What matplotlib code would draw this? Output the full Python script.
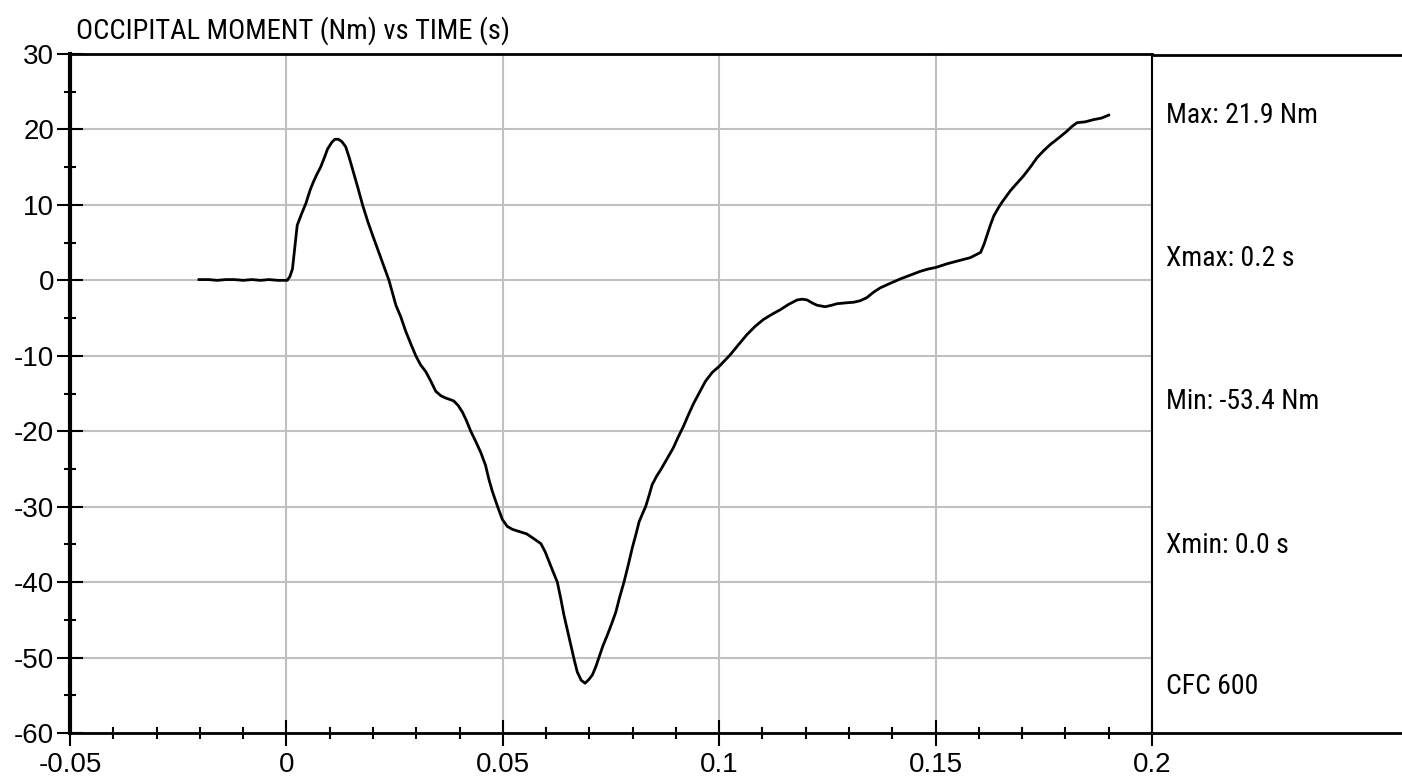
import matplotlib
matplotlib.use("Agg")
import matplotlib.pyplot as plt
from matplotlib import font_manager
from matplotlib.lines import Line2D
from matplotlib.ticker import MultipleLocator

# ---------------- data ----------------
time_s = [
    -0.0202, -0.018, -0.016, -0.014, -0.012, -0.010, -0.008, -0.006, -0.004, -0.002, 0.0002,
    0.0008, 0.0014, 0.0020, 0.0025, 0.0035, 0.0045, 0.0055, 0.0062, 0.0070, 0.0079,
    0.0088, 0.0095, 0.0105, 0.0112, 0.0120, 0.0128, 0.0137, 0.0145, 0.0153, 0.0165,
    0.0176, 0.0188, 0.0199, 0.0218, 0.0237, 0.0253, 0.0264, 0.0276, 0.0288, 0.0299,
    0.0310, 0.0322, 0.0334, 0.0345, 0.0357, 0.0368, 0.0378, 0.0387, 0.0397, 0.0407,
    0.0416, 0.0426, 0.0437, 0.0449, 0.0460, 0.0468, 0.0476, 0.0488, 0.0499, 0.0510,
    0.0522, 0.0538, 0.0555, 0.0568, 0.0588, 0.0598, 0.0607, 0.0616, 0.0626, 0.0634,
    0.0641, 0.0649, 0.0657, 0.0665, 0.0672, 0.0681, 0.0690, 0.0699, 0.0707, 0.0715,
    0.0722, 0.0731, 0.0741, 0.0751, 0.0761, 0.0770, 0.0780, 0.0790, 0.0799, 0.0807,
    0.0815, 0.0823, 0.0830, 0.0838, 0.0845, 0.0855, 0.0866, 0.0880, 0.0894, 0.0905,
    0.0917, 0.0929, 0.0941, 0.0955, 0.0968, 0.0984, 0.1000, 0.1025, 0.1045, 0.1064,
    0.1083, 0.1102, 0.1122, 0.1141, 0.1160, 0.1180, 0.1192, 0.1203, 0.1215, 0.1226,
    0.1245, 0.1260, 0.1272, 0.1290, 0.1311, 0.1326, 0.1341, 0.1356, 0.1372, 0.1395,
    0.1419, 0.1442, 0.1465, 0.1483, 0.1500, 0.1527, 0.1553, 0.1580, 0.1604, 0.1612,
    0.1619, 0.1627, 0.1635, 0.1645, 0.1654, 0.1673, 0.1690, 0.1704, 0.1720, 0.1735,
    0.1750, 0.1765, 0.1785, 0.1804, 0.1815, 0.1827, 0.1845, 0.1865, 0.1883, 0.1900,
]
moment_nm = [
    0.1, 0.1, 0.0, 0.1, 0.1, 0.0, 0.1, 0.0, 0.1, 0.0, 0.0,
    0.5, 1.5, 4.6, 7.3, 8.8, 10.2, 12.0, 13.0, 14.0, 15.0,
    16.3, 17.4, 18.3, 18.7, 18.7, 18.4, 17.7, 16.3, 14.7, 12.3,
    10.0, 7.8, 6.0, 3.0, 0.0, -3.3, -4.8, -6.8, -8.5, -10.0,
    -11.2, -12.1, -13.4, -14.7, -15.3, -15.6, -15.8, -16.0, -16.6, -17.5,
    -18.6, -20.0, -21.3, -22.8, -24.5, -26.4, -28.0, -30.0, -31.7, -32.6,
    -33.0, -33.3, -33.6, -34.1, -34.9, -36.0, -37.3, -38.6, -40.0, -42.2,
    -44.3, -46.3, -48.3, -50.3, -51.9, -53.0, -53.4, -52.9, -52.3, -51.2,
    -50.0, -48.5, -47.1, -45.6, -44.0, -42.0, -40.0, -37.7, -35.5, -33.8,
    -32.0, -30.9, -30.0, -28.5, -27.1, -26.0, -25.0, -23.6, -22.2, -20.8,
    -19.4, -17.8, -16.3, -14.8, -13.4, -12.2, -11.4, -9.9, -8.5, -7.2,
    -6.1, -5.2, -4.5, -3.9, -3.2, -2.6, -2.5, -2.6, -3.0, -3.3,
    -3.5, -3.3, -3.1, -3.0, -2.9, -2.7, -2.3, -1.6, -1.0, -0.4,
    0.2, 0.7, 1.2, 1.5, 1.7, 2.2, 2.6, 3.0, 3.7, 4.8,
    6.0, 7.4, 8.6, 9.6, 10.4, 11.9, 13.0, 13.9, 15.1, 16.3,
    17.2, 18.0, 18.9, 19.8, 20.4, 20.9, 21.0, 21.3, 21.5, 21.9,
]
x_ticks = [-0.05, 0.0, 0.05, 0.1, 0.15, 0.2]
x_tick_labels = ["-0.05", "0", "0.05", "0.1", "0.15", "0.2"]
y_ticks = [-60, -50, -40, -30, -20, -10, 0, 10, 20, 30]
y_tick_labels = [str(v) for v in y_ticks]
title_text = "OCCIPITAL MOMENT (Nm) vs TIME (s)"
info_texts = ["Max: 21.9 Nm", "Xmax: 0.2 s", "Min: -53.4 Nm", "Xmin: 0.0 s", "CFC 600"]


def pick_family(cands):
    for c in cands:
        try:
            font_manager.findfont(font_manager.FontProperties(family=c),
                                  fallback_to_default=False)
            return c
        except Exception:
            continue
    return "DejaVu Sans"


narrow = pick_family(["Liberation Sans Narrow", "Arial Narrow", "DejaVu Sans Condensed",
                      "Roboto Condensed", "Liberation Sans"])
regular = pick_family(["Liberation Sans", "Arial", "DejaVu Sans"])

W, H = 1402, 783
fig = plt.figure(figsize=(W / 100, H / 100), dpi=100)
fig.patch.set_facecolor("white")

left_px, right_px, top_px, bot_px = 70, 1152, 54, 733
ax = fig.add_axes([left_px / W, 1 - bot_px / H, (right_px - left_px) / W, (bot_px - top_px) / H])
ax.set_xlim(-0.05, 0.2)
ax.set_ylim(-60, 30)

ax.plot(time_s, moment_nm, color="black", lw=2.0, zorder=3)

ax.set_xticks(x_ticks)
ax.set_xticklabels(x_tick_labels)
ax.set_yticks(y_ticks)
ax.set_yticklabels(y_tick_labels)
ax.xaxis.set_minor_locator(MultipleLocator(0.01))
ax.yaxis.set_minor_locator(MultipleLocator(5))

ax.set_axisbelow(True)
ax.grid(True, which="major", color="#c0c0c0", lw=1.5)

ax.tick_params(which="major", direction="inout", length=19, width=1.5, color="black",
               labelsize=20, pad=2)
ax.tick_params(which="minor", direction="inout", length=9, width=1.5, color="black")
ax.tick_params(axis="x", which="major", pad=4)
for lab in ax.get_xticklabels() + ax.get_yticklabels():
    lab.set_fontfamily(regular)

ax.spines["left"].set_linewidth(3)
ax.spines["top"].set_linewidth(2)
ax.spines["bottom"].set_linewidth(2)
ax.spines["right"].set_linewidth(1.5)
for s in ax.spines.values():
    s.set_color("black")

# extension lines of the info panel
fig.add_artist(Line2D([right_px / W, 1.0], [1 - 55 / H, 1 - 55 / H], color="black", lw=2,
                      transform=fig.transFigure))
fig.add_artist(Line2D([right_px / W, 1.0], [1 - bot_px / H, 1 - bot_px / H], color="black",
                      lw=2, transform=fig.transFigure))

fig.text(76 / W, 1 - 39 / H, title_text, fontsize=20.5, family=narrow, va="baseline", ha="left")

baselines = [123, 266, 409, 553, 694]
for txt, b in zip(info_texts, baselines):
    fig.text(1166 / W, 1 - b / H, txt, fontsize=20, family=narrow, va="baseline", ha="left")

fig.savefig("out.png", dpi=100, facecolor="white")
